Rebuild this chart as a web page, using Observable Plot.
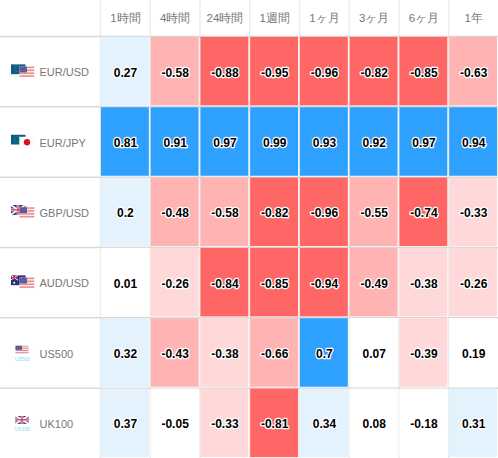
<!DOCTYPE html>
<html>
<head>
<meta charset="utf-8">
<script src="https://cdn.jsdelivr.net/npm/d3@7"></script>
<script src="https://cdn.jsdelivr.net/npm/@observablehq/plot@0.6"></script>
<style>
html,body{margin:0;padding:0;background:#fff}
svg{display:block}
</style>
</head>
<body>
<div id="chart"></div>
<script>
const columns = ["1時間","4時間","24時間","1週間","1ヶ月","3ヶ月","6ヶ月","1年"];
const rows = ["EUR/USD","EUR/JPY","GBP/USD","AUD/USD","US500","UK100"];
const eurusd = [0.27,-0.58,-0.88,-0.95,-0.96,-0.82,-0.85,-0.63];
const eurjpy = [0.81,0.91,0.97,0.99,0.93,0.92,0.97,0.94];
const gbpusd = [0.2,-0.48,-0.58,-0.82,-0.96,-0.55,-0.74,-0.33];
const audusd = [0.01,-0.26,-0.84,-0.85,-0.94,-0.49,-0.38,-0.26];
const us500 = [0.32,-0.43,-0.38,-0.66,0.7,0.07,-0.39,0.19];
const uk100 = [0.37,-0.05,-0.33,-0.81,0.34,0.08,-0.18,0.31];
const series = [eurusd,eurjpy,gbpusd,audusd,us500,uk100];
const thresholds = [-0.7,-0.4,-0.2,0.2,0.7];
const palette = ["#ff6666","#ffb3b3","#ffd9d9","#ffffff","#e3f2fd","#2ea1ff"];
const captions = {"US500":"US500","UK100":"UK100"};

const table = rows.flatMap((r,i)=>columns.map((c,j)=>({row:r,col:c,value:series[i][j]})));

// little flag drawings
const eu = (x,y,w,h)=>`<rect x="${x}" y="${y}" width="${w}" height="${h}" fill="#0b5f87"/><circle cx="${x+w*.45}" cy="${y+h*.45}" r="${h*.28}" fill="none" stroke="#6f9a50" stroke-width=".7" stroke-dasharray="1 1"/>`;
const us = (x,y,w,h)=>{let s=`<rect x="${x}" y="${y}" width="${w}" height="${h}" fill="#fbe9e9"/>`;
  for(let k=0;k<4;k++) s+=`<rect x="${x}" y="${y+k*h/3.6}" width="${w}" height="${h/7.5}" fill="#e58a8a"/>`;
  return s+`<rect x="${x}" y="${y}" width="${w*.5}" height="${h*.55}" fill="#5a5f9c"/>`;};
const jp = (x,y,w,h)=>`<rect x="${x}" y="${y}" width="${w}" height="${h}" fill="#fff" stroke="#e6e6e6" stroke-width=".5"/><circle cx="${x+w/2}" cy="${y+h/2}" r="${h*.3}" fill="#e00f1e"/>`;
const gb = (x,y,w,h)=>`<rect x="${x}" y="${y}" width="${w}" height="${h}" fill="#2c3a85"/><path d="M${x} ${y}L${x+w} ${y+h}M${x+w} ${y}L${x} ${y+h}" stroke="#fff" stroke-width="1.8"/><path d="M${x+w/2} ${y}V${y+h}M${x} ${y+h/2}H${x+w}" stroke="#fff" stroke-width="2.6"/><path d="M${x+w/2} ${y}V${y+h}M${x} ${y+h/2}H${x+w}" stroke="#d8243a" stroke-width="1.2"/>`;
const au = (x,y,w,h)=>`<rect x="${x}" y="${y}" width="${w}" height="${h}" fill="#25307f"/><path d="M${x} ${y}L${x+w/2} ${y+h/2}M${x+w/2} ${y}L${x} ${y+h/2}" stroke="#fff" stroke-width="1"/><path d="M${x+w/4} ${y}V${y+h/2}M${x} ${y+h/4}H${x+w/2}" stroke="#d8243a" stroke-width="1"/><circle cx="${x+w*.25}" cy="${y+h*.75}" r="1" fill="#fff"/><circle cx="${x+w*.75}" cy="${y+h*.3}" r=".8" fill="#fff"/><circle cx="${x+w*.75}" cy="${y+h*.7}" r=".8" fill="#fff"/>`;
const pair = (a,b)=>a(0,0,15,10)+b(9,2.5,15,10.5);
const flagBody = {
  "EUR/USD":pair(eu,us),
  "EUR/JPY":pair(eu,jp),
  "GBP/USD":pair(gb,us),
  "AUD/USD":pair(au,us),
  "US500":us(5,0,13,8),
  "UK100":gb(5,0,13,8)
};
const flags = rows.map(r=>({row:r,src:"data:image/svg+xml;charset=utf-8,"+encodeURIComponent(
  `<svg xmlns="http://www.w3.org/2000/svg" width="24" height="13" viewBox="0 0 24 13">${flagBody[r]}</svg>`)}));
const captionRows = rows.filter(r=>captions[r]);

const bw = 422/rows.length/2, cw = 398/columns.length/2;

const chart = Plot.plot({
  width:498,height:458,
  marginLeft:100,marginTop:36,marginRight:0,marginBottom:0,
  style:{fontFamily:"'Liberation Sans',Arial,sans-serif",background:"#fff"},
  x:{type:"band",domain:columns,padding:0,round:false,axis:null},
  y:{type:"band",domain:rows,padding:0,round:false,axis:null},
  color:{type:"threshold",domain:thresholds,range:palette},
  marks:[
    Plot.ruleX(columns,{x:d=>d,dx:-cw,insetTop:-36,stroke:"#ececec",strokeWidth:1.5}),
    Plot.ruleY(rows,{y:d=>d,dy:-bw,insetLeft:-100,stroke:"#d9d9d9",strokeWidth:1.5}),
    Plot.cell(table,{x:"col",y:"row",fill:"value",inset:0.9}),
    Plot.text(table,{x:"col",y:"row",dy:1,text:d=>String(d.value),fill:"#000",stroke:"#fff",strokeWidth:2.5,fontWeight:"bold",fontSize:12}),
    Plot.axisX({anchor:"top",tickSize:0,tickPadding:15,fontSize:11.5,color:"#777",label:null}),
    Plot.axisY({anchor:"left",tickSize:0,tickPadding:61,dy:1,textAnchor:"start",fontSize:11,color:"#777",label:null}),
    Plot.image(flags,{y:"row",frameAnchor:"left",dx:-78,dy:-1,width:24,height:13,src:"src"}),
    Plot.text(captionRows,{y:d=>d,text:d=>captions[d],frameAnchor:"left",textAnchor:"middle",dx:-78,dy:6,fontSize:5,fill:"#7fdcf5"})
  ]
});
document.getElementById("chart").append(chart);
</script>
</body>
</html>
